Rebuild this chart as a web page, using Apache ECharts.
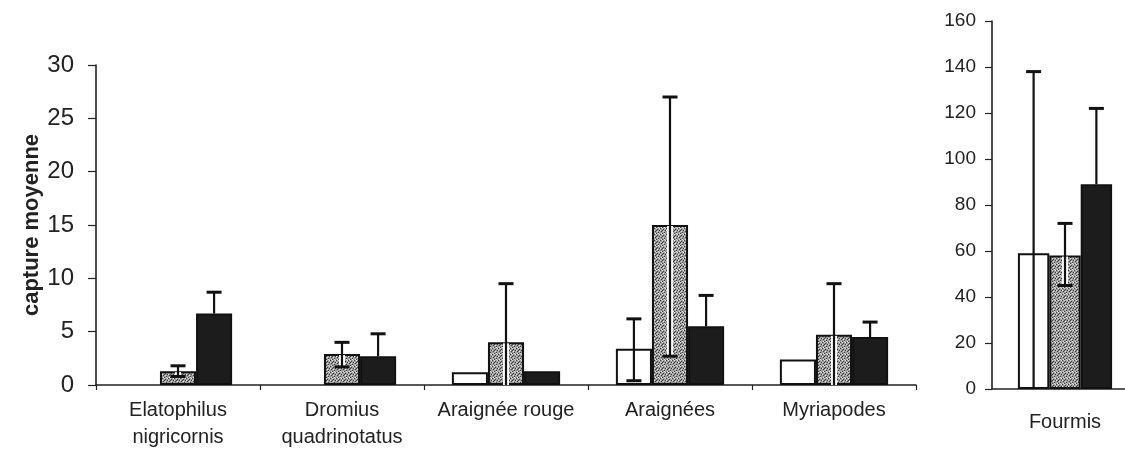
<!DOCTYPE html>
<html>
<head>
<meta charset="utf-8">
<script src="https://cdn.jsdelivr.net/npm/echarts@6/dist/echarts.min.js"></script>
<style>
html,body{margin:0;padding:0;background:#fff;}
#c{width:1125px;height:459px;}
</style>
</head>
<body>
<div id="c"></div>
<script>
// ---- data ----
const categories = ['Elatophilus\nnigricornis', 'Dromius\nquadrinotatus', 'Araignée rouge', 'Araignées', 'Myriapodes'];
const whiteVals  = [0, 0, 1.2, 3.4, 2.4];
const dottedVals = [1.3, 2.9, 4.0, 15.0, 4.7];
const darkVals   = [6.7, 2.7, 1.3, 5.5, 4.5];
// error bar ends (upper / lower), null = none
const whiteHi  = [null, null, null, 6.2, null];
const whiteLo  = [null, null, null, 0.4, null];
const dottedHi = [1.8, 4.0, 9.5, 27.0, 9.5];
const dottedLo = [0.8, 1.7, 0, 2.7, 0];
const darkHi   = [8.7, 4.8, null, 8.4, 5.9];
const darkLo   = [null, null, null, null, null];

const categories2 = ['Fourmis'];
const whiteVals2  = [59];
const dottedVals2 = [58];
const darkVals2   = [89];
const whiteHi2  = [138];
const whiteLo2  = [0];
const dottedHi2 = [72];
const dottedLo2 = [45];
const darkHi2   = [122];
const darkLo2   = [null];

const yTicks1 = [0, 5, 10, 15, 20, 25, 30];
const yTicks2 = [0, 20, 40, 60, 80, 100, 120, 140, 160];

// ---- dotted fill pattern (deterministic) ----
function makePattern() {
  const c = document.createElement('canvas');
  c.width = 6; c.height = 6;
  const g = c.getContext('2d');
  g.fillStyle = '#9e9e9e';
  g.fillRect(0, 0, 6, 6);
  g.fillStyle = '#3a3a3a';
  [[0,0],[3,1],[1,3],[4,4],[2,5],[5,2],[2,2]].forEach(p => g.fillRect(p[0], p[1], 1, 1));
  g.fillStyle = '#e0e0e0';
  [[2,0],[5,0],[0,2],[3,3],[1,5],[4,5]].forEach(p => g.fillRect(p[0], p[1], 1, 1));
  return c;
}
const pattern = { image: makePattern(), repeat: 'repeat' };

const BAR_FRAC_1 = 0.22;
const BAR_FRAC_2 = 0.215;

function errData(vals, hi, lo) {
  const out = [];
  vals.forEach((v, i) => {
    if (hi[i] != null) out.push([i, hi[i], lo[i] == null ? v : lo[i], v]);
  });
  return out;
}

function errSeries(slot, frac, vals, hi, lo, gi, striped) {
  return {
    type: 'custom',
    xAxisIndex: gi, yAxisIndex: gi,
    z: 10,
    silent: true,
    data: errData(vals, hi, lo),
    renderItem: function (params, api) {
      const cat = api.value(0);
      const top = api.coord([cat, api.value(1)]);
      const bot = api.coord([cat, api.value(2)]);
      const valP = api.coord([cat, api.value(3)]);
      const band = api.size([1, 0])[0];
      const x = top[0] + slot * frac * band;
      const cap = 7.5;
      const children = [];
      if (striped && api.value(2) < api.value(3)) {
        children.push({ type: 'line', shape: { x1: x, y1: valP[1] + 1, x2: x, y2: bot[1] },
          style: { stroke: '#ffffff', lineWidth: 6 } });
      }
      children.push({ type: 'line', shape: { x1: x, y1: top[1], x2: x, y2: bot[1] },
        style: { stroke: '#111', lineWidth: 2.2 } });
      children.push({ type: 'line', shape: { x1: x - cap, y1: top[1], x2: x + cap, y2: top[1] },
        style: { stroke: '#111', lineWidth: 3 } });
      if (api.value(2) < api.value(3) && api.value(2) > 0) {
        children.push({ type: 'line', shape: { x1: x - cap, y1: bot[1], x2: x + cap, y2: bot[1] },
          style: { stroke: '#111', lineWidth: 3 } });
      }
      return { type: 'group', children: children };
    }
  };
}

function barSeries(vals, gi, color, frac) {
  return {
    type: 'bar',
    xAxisIndex: gi, yAxisIndex: gi,
    data: vals.map(v => v === 0
      ? { value: v, itemStyle: { borderWidth: 0 } }
      : v),
    barWidth: (frac * 100) + '%',
    barGap: '0%',
    itemStyle: { color: color, borderColor: '#111', borderWidth: 2 },
    silent: true
  };
}

const txt = '#222';
const axisLine = { show: true, lineStyle: { color: '#222', width: 1.6 } };

const option = {
  animation: false,
  backgroundColor: '#ffffff',
  textStyle: { fontFamily: 'Liberation Sans, Arial, sans-serif' },
  grid: [
    { left: 96, top: 65, width: 820, height: 320, containLabel: false, outerBoundsMode: 'none' },
    { left: 992, top: 21, width: 146, height: 368, containLabel: false, outerBoundsMode: 'none' }
  ],
  xAxis: [
    {
      type: 'category', gridIndex: 0, data: categories,
      axisLine: axisLine,
      axisTick: { show: true, length: 5, alignWithLabel: false, lineStyle: { color: '#222', width: 1.2 } },
      axisLabel: { color: txt, fontSize: 20, lineHeight: 27, margin: 12, interval: 0 }
    },
    {
      type: 'category', gridIndex: 1, data: categories2,
      axisLine: axisLine,
      axisTick: { show: false },
      axisLabel: { color: txt, fontSize: 20, margin: 23 }
    }
  ],
  yAxis: [
    {
      type: 'value', gridIndex: 0, min: yTicks1[0], max: yTicks1[yTicks1.length - 1], interval: yTicks1[1] - yTicks1[0],
      name: 'capture moyenne', nameLocation: 'middle', nameGap: 53, nameMoveOverlap: false,
      nameTextStyle: { color: txt, fontSize: 22, fontWeight: 'bold' },
      axisLine: axisLine,
      axisTick: { show: true, length: 8, inside: false, lineStyle: { color: '#222', width: 1.2 } },
      axisLabel: { color: txt, fontSize: 24, margin: 22 },
      splitLine: { show: false }
    },
    {
      type: 'value', gridIndex: 1, min: yTicks2[0], max: yTicks2[yTicks2.length - 1], interval: yTicks2[1] - yTicks2[0],
      axisLine: axisLine,
      axisTick: { show: true, length: 7, lineStyle: { color: '#222', width: 1.2 } },
      axisLabel: { color: txt, fontSize: 19, margin: 16 },
      splitLine: { show: false }
    }
  ],
  series: [
    barSeries(whiteVals, 0, '#ffffff', BAR_FRAC_1),
    barSeries(dottedVals, 0, pattern, BAR_FRAC_1),
    barSeries(darkVals, 0, '#1c1c1c', BAR_FRAC_1),
    errSeries(-1, BAR_FRAC_1, whiteVals, whiteHi, whiteLo, 0, false),
    errSeries(0, BAR_FRAC_1, dottedVals, dottedHi, dottedLo, 0, true),
    errSeries(1, BAR_FRAC_1, darkVals, darkHi, darkLo, 0, false),
    barSeries(whiteVals2, 1, '#ffffff', BAR_FRAC_2),
    barSeries(dottedVals2, 1, pattern, BAR_FRAC_2),
    barSeries(darkVals2, 1, '#1c1c1c', BAR_FRAC_2),
    errSeries(-1, BAR_FRAC_2, whiteVals2, whiteHi2, whiteLo2, 1, false),
    errSeries(0, BAR_FRAC_2, dottedVals2, dottedHi2, dottedLo2, 1, true),
    errSeries(1, BAR_FRAC_2, darkVals2, darkHi2, darkLo2, 1, false)
  ]
};

const chart = echarts.init(document.getElementById('c'), null, { renderer: 'canvas' });
chart.setOption(option);
</script>
</body>
</html>
